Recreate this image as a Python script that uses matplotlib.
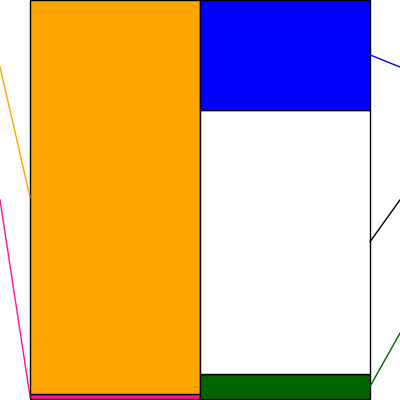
import numpy as np
import matplotlib
matplotlib.use("Agg")
from matplotlib import pyplot as plt

# balance sheet shares (%), stacked bottom -> top
left_vals = [1.3, 98.7]
left_colors = ["#ff1493", "#ffa500"]
right_vals = [6.3, 66.2, 27.5]
right_colors = ["#006400", "#ffffff", "#0000ff"]
line_colors_left = ["#ff1493", "#ffa500"]
line_colors_right = ["#006400", "#000000", "#0000ff"]

# where the (cut off) labels sit, in % of height
label_y_left = [49.9, 83.2]
label_y_right = [16.5, 49.9, 83.2]

fig = plt.figure(figsize=(4, 4), dpi=100)
ax = fig.add_axes([0, 0, 1, 1])
edge = 30 / 170
ax.set_xlim(-0.5 - edge, 1.5 + edge)
ax.set_ylim(-0.25, 100)
ax.axis("off")

bottom = 0
for v, c, lc, ly in zip(left_vals, left_colors, line_colors_left, label_y_left):
    ax.bar(0, v, width=1, bottom=bottom, color=c, edgecolor="black", linewidth=1)
    ax.plot([-0.5, -0.5 - edge], [bottom + v / 2, ly], color=lc, lw=1, clip_on=False)
    bottom += v

bottom = 0
for v, c, lc, ly in zip(right_vals, right_colors, line_colors_right, label_y_right):
    ax.bar(1, v, width=1, bottom=bottom, color=c, edgecolor="black", linewidth=1)
    ax.plot([1.5, 1.5 + edge], [bottom + v / 2, ly], color=lc, lw=1, clip_on=False)
    bottom += v

fig.savefig("out.png", dpi=100)
